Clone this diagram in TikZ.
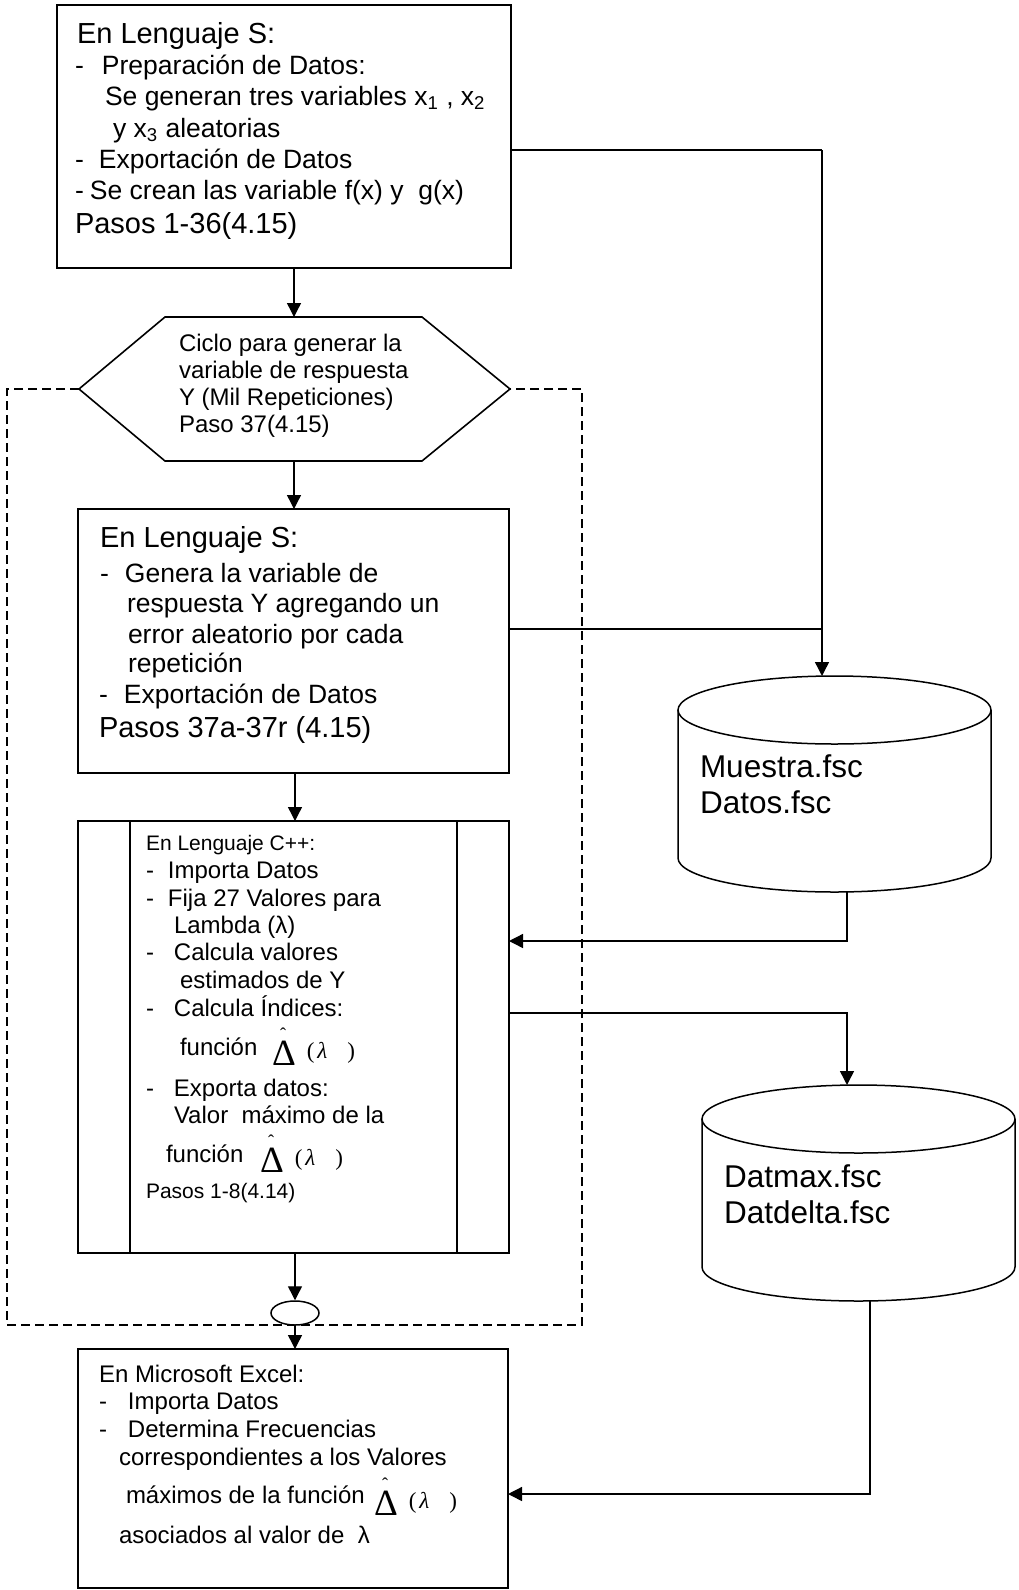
\documentclass[tikz,border=0pt]{standalone}
\usepackage{fontspec}
\setmainfont{Liberation Sans}
\newfontfamily\dserif{Liberation Serif}
\usetikzlibrary{arrows.meta,shapes.geometric}
\newcommand\fsz[1]{\fontsize{#1}{#1}\selectfont}
\newcommand\dsh[1]{\makebox[#1][l]{-}}
\newcommand\DLam{{\dserif\fsz{18.5pt}\makebox[0pt][l]{\hspace{4.1pt}\raisebox{12.5pt}[0pt][0pt]{\fsz{9pt}ˆ}}Δ\hspace{5.5pt}\raisebox{3.5pt}{\fsz{11.5pt}(\hspace{1.5pt}\textit{λ}\hspace{10pt})}}}
\begin{document}
\begin{tikzpicture}[x=0.5pt,y=-0.5pt,
  box/.style={draw, line width=0.9pt, inner sep=0pt, outer sep=0pt},
  tl/.style={anchor=base west, inner sep=0pt, outer sep=0pt},
  hd/.style={tl, font=\fsz{14.5pt}},
  bd/.style={tl, font=\fsz{13.25pt}},
  sm/.style={tl, font=\fsz{12pt}},
  ss/.style={tl, font=\fsz{10.5pt}},
  db/.style={tl, font=\fsz{15.75pt}},
  conn/.style={line width=0.7pt},
  arr/.style={conn, -{Triangle[width=7pt,length=7pt]}},
  dashbox/.style={line width=0.55pt, dash pattern=on 4.5pt off 2.5pt},
  cyl/.style={line width=0.75pt}]
\useasboundingbox (0,0) rectangle (1018,1590);

% boxes
\node[box, minimum width=227pt, minimum height=131.5pt] (box1) at (284,136.5) {};
\node[box, minimum width=215.5pt, minimum height=132pt] (box2) at (293.5,641) {};
\node[box, minimum width=215.5pt, minimum height=216pt] (box3) at (293.5,1037) {};
\draw[line width=0.9pt] (130,0 |- box3.north) -- (130,0 |- box3.south)
                        (457,0 |- box3.north) -- (457,0 |- box3.south);
\node[box, minimum width=215pt, minimum height=119.5pt] (box4) at (293,1468.5) {};

% hexagon
\draw[line width=0.8pt] (79,389) coordinate (hexW) -- (165,317) -- (422,317)
   -- (510,389) coordinate (hexE) -- (422,461) -- (165,461) -- cycle;
\coordinate (hexN) at (294,317);
\coordinate (hexS) at (294,461);

% dashed loop frame
\draw[dashbox] (hexW) -- (7,389) -- (7,1325) -- (582,1325) -- (582,389) -- (hexE);
\node[draw, ellipse, line width=0.75pt, fill=white, minimum width=24pt, minimum height=12pt, inner sep=0pt] (ell) at (295,1313) {};

% cylinders
\draw[cyl] (678,710) -- (678,858) arc[start angle=180, end angle=360, x radius=78.25pt, y radius=17pt] -- (991,710);
\draw[cyl] (834.5,710) ellipse[x radius=78.25pt, y radius=17pt];
\coordinate (c1top) at (822,676);
\coordinate (c1bot) at (847,892);
\draw[cyl] (702,1119) -- (702,1267) arc[start angle=180, end angle=360, x radius=78.25pt, y radius=17pt] -- (1015,1119);
\draw[cyl] (858.5,1119) ellipse[x radius=78.25pt, y radius=17pt];
\coordinate (c2top) at (847,1085);
\coordinate (c2bot) at (870,1301);

% connectors
\draw[arr] (hexN |- box1.south) -- (hexN);
\draw[arr] (hexS) -- (hexS |- box2.north);
\draw[arr] (box2.south -| ell) -- (box3.north -| ell);
\draw[arr] (box3.south -| ell) -- (ell.north);
\draw[arr] (ell.south) -- (ell |- box4.north);
\coordinate (j1) at (822,150);
\coordinate (j2) at (822,629);
\draw[conn] (box1.east |- j1) -- (j1);
\draw[arr] (j1) -- (c1top);
\draw[conn] (box2.east |- j2) -- (j2);
\coordinate (k1) at (847,941);
\draw[arr] (c1bot) -- (k1) -- (box3.east |- k1);
\coordinate (k2) at (847,1013);
\draw[arr] (box3.east |- k2) -- (k2) -- (c2top);
\coordinate (k3) at (870,1494);
\draw[arr] (c2bot) -- (k3) -- (box4.east |- k3);

% box 1 text
\node[hd] (t1a) at (77,43) {En Lenguaje S:};
\node[bd] (t1b) at (75,74) {\dsh{13.5pt}Preparación de Datos:};
\node[bd] (t1c) at (105,105) {Se generan tres variables x\textsubscript{1} , x\textsubscript{2}};
\node[bd] (t1d) at (113,137) {y x\textsubscript{3} aleatorias};
\node[bd] (t1e) at (75,168) {\dsh{12pt}Exportación de Datos};
\node[bd] (t1f) at (75,199) {\dsh{7.5pt}Se crean las variable f(x) y\ \ g(x)};
\node[hd] (t1g) at (75,233) {Pasos 1-36(4.15)};

% hexagon text
\node[sm] (h1) at (179,351) {Ciclo para generar la};
\node[sm] (h2) at (179,378) {variable de respuesta};
\node[sm] (h3) at (179,405) {Y (Mil Repeticiones)};
\node[sm] (h4) at (179,432) {Paso 37(4.15)};

% box 2 text
\node[hd] (t2a) at (100,547) {En Lenguaje S:};
\node[bd] (t2b) at (100,582) {\dsh{12.5pt}Genera la variable de};
\node[bd] (t2c) at (127,612) {respuesta Y agregando un};
\node[bd] (t2d) at (128,643) {error aleatorio por cada};
\node[bd] (t2e) at (128,672) {repetición};
\node[bd] (t2f) at (99,703) {\dsh{12.5pt}Exportación de Datos};
\node[hd] (t2g) at (99,737) {Pasos 37a-37r (4.15)};

% box 3 text
\node[ss] (t3a) at (146,850) {En Lenguaje C++:};
\node[sm] (t3b) at (146,878) {\dsh{11pt}Importa Datos};
\node[sm] (t3c) at (146,906) {\dsh{11pt}Fija 27 Valores para};
\node[sm] (t3d) at (174,933) {Lambda (λ)};
\node[sm] (t3e) at (146,960) {\dsh{14pt}Calcula valores};
\node[sm] (t3f) at (180,988) {estimados de Y};
\node[sm] (t3g) at (146,1016) {\dsh{14pt}Calcula Índices:};
\node[sm] (t3h) at (180,1055) {función};
\node[tl] (t3i) at (272,1065) {\DLam};
\node[sm] (t3j) at (146,1096) {\dsh{14pt}Exporta datos:};
\node[sm] (t3k) at (174,1123) {Valor\ \ máximo de la};
\node[sm] (t3l) at (166,1162) {función};
\node[tl] (t3m) at (260,1172) {\DLam};
\node[ss] (t3n) at (146,1198) {Pasos 1-8(4.14)};

% box 4 text
\node[sm] (t4a) at (99,1382) {En Microsoft Excel:};
\node[sm] (t4b) at (99,1409) {\dsh{14.5pt}Importa Datos};
\node[sm] (t4c) at (99,1437) {\dsh{14.5pt}Determina Frecuencias};
\node[sm] (t4d) at (119,1465) {correspondientes a los Valores};
\node[sm] (t4e) at (126,1503) {máximos de la función};
\node[tl] (t4f) at (374,1515) {\DLam};
\node[sm] (t4g) at (119,1543) {asociados al valor de\ \ λ};

% cylinder text
\node[db] (m1) at (700,777) {Muestra.fsc};
\node[db] (m2) at (700,813) {Datos.fsc};
\node[db] (m3) at (724,1187) {Datmax.fsc};
\node[db] (m4) at (724,1223) {Datdelta.fsc};
\end{tikzpicture}
\end{document}
